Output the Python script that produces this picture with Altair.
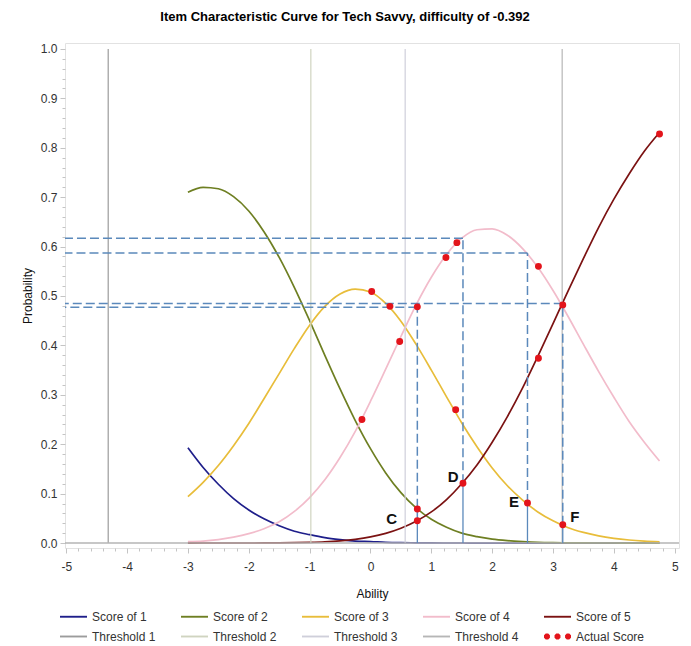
import altair as alt
import pandas as pd

FONT = "Liberation Sans"

# Ability grid on which the category probability curves are tabulated
theta = [-3.0, -2.75, -2.5, -2.25, -2.0, -1.75, -1.5, -1.25, -1.0, -0.75, -0.5, -0.25,
         0.0, 0.25, 0.5, 0.75, 1.0, 1.25, 1.5, 1.75, 2.0, 2.25, 2.5, 2.75,
         3.0, 3.25, 3.5, 3.75, 4.0, 4.25, 4.5, 4.75]

score1 = [0.193, 0.153, 0.119, 0.090, 0.067, 0.049, 0.035, 0.024, 0.017, 0.011, 0.007, 0.004,
          0.003, 0.0015, 0.0008, 0.0005, 0.0002, 0.0001, 0.0001, 0.0, 0.0, 0.0, 0.0, 0.0,
          0.0, 0.0, 0.0, 0.0, 0.0, 0.0, 0.0, 0.0]
score2 = [0.710, 0.720, 0.717, 0.701, 0.672, 0.630, 0.578, 0.517, 0.450, 0.380, 0.312, 0.248,
          0.191, 0.142, 0.102, 0.071, 0.048, 0.032, 0.020, 0.013, 0.008, 0.005, 0.003, 0.0015,
          0.0008, 0.0005, 0.0002, 0.0001, 0.0001, 0.0, 0.0, 0.0]
score3 = [0.094, 0.123, 0.157, 0.197, 0.242, 0.292, 0.343, 0.394, 0.441, 0.479, 0.504, 0.514,
          0.508, 0.485, 0.449, 0.402, 0.350, 0.296, 0.243, 0.195, 0.152, 0.116, 0.087, 0.063,
          0.045, 0.031, 0.0215, 0.0144, 0.0095, 0.0062, 0.0040, 0.0025]
score4 = [0.003, 0.004, 0.007, 0.012, 0.019, 0.029, 0.043, 0.064, 0.092, 0.128, 0.173, 0.226,
          0.287, 0.352, 0.418, 0.482, 0.538, 0.584, 0.617, 0.634, 0.636, 0.623, 0.596, 0.558,
          0.511, 0.458, 0.402, 0.347, 0.295, 0.246, 0.204, 0.166]
score5 = [0.0, 0.0001, 0.0001, 0.0001, 0.0001, 0.0002, 0.0004, 0.0008, 0.0015, 0.0026, 0.0045, 0.0076,
          0.0124, 0.0196, 0.030, 0.044, 0.063, 0.088, 0.120, 0.158, 0.204, 0.256, 0.314, 0.378,
          0.444, 0.511, 0.576, 0.639, 0.696, 0.747, 0.793, 0.831]

score_names = ["Score of 1", "Score of 2", "Score of 3", "Score of 4", "Score of 5"]
score_colors = ["#1e1e8a", "#6e7f22", "#e8bd3a", "#f2bccb", "#7b1212"]

# Step thresholds (vertical reference lines)
threshold_names = ["Threshold 1", "Threshold 2", "Threshold 3", "Threshold 4"]
threshold_x = [-4.31, -0.98, 0.57, 3.15]
threshold_colors = ["#9c9c9c", "#d0d4c0", "#cfcfda", "#b6b6b6"]

# Observed scores
point_name = "Actual Score"
point_color = "#e3141b"
points_x = [-0.14, 0.02, 0.32, 0.48, 0.77, 0.77, 0.77, 1.24, 1.42, 1.40, 1.52, 2.58,
            2.76, 2.76, 3.16, 3.16, 4.75]
points_y = [0.250, 0.509, 0.479, 0.408, 0.478, 0.069, 0.045, 0.578, 0.608, 0.270, 0.121, 0.081,
            0.560, 0.374, 0.482, 0.037, 0.828]

# Guide lines: read-off probability level, ability and lower marked score
guide_x = [0.77, 1.52, 2.58, 3.16]
guide_level = [0.477, 0.617, 0.587, 0.485]
guide_point = [0.045, 0.121, 0.081, 0.037]
guide_color = "#5b89bb"

# Letter annotations
letters = ["C", "D", "E", "F"]
letter_x = [0.35, 1.36, 2.36, 3.36]
letter_y = [0.048, 0.133, 0.083, 0.053]

x_major = [-5, -4, -3, -2, -1, 0, 1, 2, 3, 4, 5]
y_major = [0.0, 0.1, 0.2, 0.3, 0.4, 0.5, 0.6, 0.7, 0.8, 0.9, 1.0]
x_ticks = sorted(set(round(m + 0.2 * k, 1) for m in x_major[:-1] for k in range(5)) | {5.0})
y_ticks = sorted(set(round(m + 0.02 * k, 2) for m in y_major[:-1] for k in range(5)) | {1.0})

line_names = score_names + threshold_names
line_colors = score_colors + threshold_colors
legend_names = line_names + [point_name]
legend_colors = line_colors + [point_color]


def dot(cx, r=0.22):
    # octagon approximating a small filled circle
    k = r * 0.414
    return (f"M{cx - r},{-k}L{cx - k},{-r}L{cx + k},{-r}L{cx + r},{-k}"
            f"L{cx + r},{k}L{cx + k},{r}L{cx - k},{r}L{cx - r},{k}Z")


line_shape = "M-1,-0.07L1,-0.07L1,0.07L-1,0.07Z"
dots_shape = dot(-0.78) + dot(0.0) + dot(0.78)
legend_shapes = [line_shape] * len(line_names) + [dots_shape]

curve_df = pd.DataFrame({
    "theta": theta * 5,
    "prob": score1 + score2 + score3 + score4 + score5,
    "series": [n for n in score_names for _ in theta],
})
thr_df = pd.DataFrame({"x": threshold_x, "series": threshold_names})
pts_df = pd.DataFrame({"x": points_x, "y": points_y})
guide_df = pd.DataFrame({"gx": guide_x, "level": guide_level, "pt": guide_point})
letter_df = pd.DataFrame({"lx": letter_x, "ly": letter_y, "label": letters})
zero_df = pd.DataFrame({"level": [0.0]})

xs = alt.Scale(domain=[-5.02, 5.07], nice=False, zero=False)
ys = alt.Scale(domain=[-0.01, 1.012], nice=False, zero=False)
line_scale = alt.Scale(domain=line_names, range=line_colors)
legend_scale = alt.Scale(domain=legend_names, range=legend_colors)
shape_scale = alt.Scale(domain=legend_names, range=legend_shapes)

X_MAJOR_TEST = "datum.value % 1 === 0"
Y_MAJOR_TEST = "abs(datum.value * 10 - round(datum.value * 10)) < 1e-6"

# minor ticks are shortened with a dash pattern
x_axis = alt.Axis(
    values=x_ticks,
    labelExpr=f"{X_MAJOR_TEST} ? '' + datum.value : ''",
    tickSize=5,
    tickDash={"condition": {"test": X_MAJOR_TEST, "value": [6, 0]}, "value": [3, 6]},
    labelOverlap=False, labelPadding=8, titlePadding=16,
)
y_axis = alt.Axis(
    values=y_ticks,
    labelExpr=f"{Y_MAJOR_TEST} ? format(datum.value, '.1f') : ''",
    tickSize=5,
    tickDash={"condition": {"test": Y_MAJOR_TEST, "value": [6, 0]}, "value": [3, 6]},
    labelOverlap=False, labelPadding=3, titlePadding=6,
)


def X(field):
    return alt.X(field, scale=xs, axis=x_axis, title="Ability")


def Y(field):
    return alt.Y(field, scale=ys, axis=y_axis, title="Probability")


curves = alt.Chart(curve_df).mark_line(strokeWidth=1.7, interpolate="monotone").encode(
    x=X("theta:Q"),
    y=Y("prob:Q"),
    stroke=alt.Stroke("series:N", scale=line_scale, legend=None),
)

thresholds = alt.Chart(thr_df).transform_calculate(lo="0", hi="1").mark_rule(strokeWidth=1.2).encode(
    x=X("x:Q"),
    y=Y("lo:Q"),
    y2="hi:Q",
    stroke=alt.Stroke("series:N", scale=line_scale, legend=None),
)

zero_line = alt.Chart(zero_df).mark_rule(color="#b5b5b5", strokeWidth=1.5).encode(
    y=Y("level:Q"),
)

h_dash = alt.Chart(guide_df).mark_rule(color=guide_color, strokeWidth=1.5, strokeDash=[9, 4]).encode(
    x=X("gx:Q"),
    x2=alt.value(0),
    y=Y("level:Q"),
)
v_dash = alt.Chart(guide_df).mark_rule(color=guide_color, strokeWidth=1.5, strokeDash=[9, 4]).encode(
    x=X("gx:Q"),
    y=Y("pt:Q"),
    y2="level:Q",
)
v_solid = alt.Chart(guide_df).transform_calculate(base="0").mark_rule(color=guide_color, strokeWidth=1.3).encode(
    x=X("gx:Q"),
    y=Y("pt:Q"),
    y2="base:Q",
)

points = alt.Chart(pts_df).mark_circle(color=point_color, size=48, opacity=1).encode(
    x=X("x:Q"),
    y=Y("y:Q"),
)

letter_marks = alt.Chart(letter_df).mark_text(
    font=FONT, fontSize=15, fontWeight="bold", color="#111111", align="center", baseline="middle"
).encode(
    x=X("lx:Q"),
    y=Y("ly:Q"),
    text="label:N",
)

legend = alt.Legend(
    title=None, orient="none", legendX=-5, legendY=560, columns=5, direction="horizontal",
    symbolSize=729, symbolStrokeWidth=0, symbolOpacity=1, labelOffset=5,
    columnPadding=20, rowPadding=0, gridAlign="all",
    labelFont=FONT, labelFontSize=12, labelColor="#333333", padding=0,
)
# invisible copy of the curves that carries the combined legend
legend_layer = alt.Chart(curve_df).mark_point(filled=True, opacity=0).encode(
    x=X("theta:Q"),
    y=Y("prob:Q"),
    color=alt.Color("series:N", scale=legend_scale, legend=legend),
    shape=alt.Shape("series:N", scale=shape_scale, legend=legend),
)

chart = alt.layer(
    curves, thresholds, zero_line, h_dash, v_dash, v_solid, points, letter_marks, legend_layer
).properties(
    width=614,
    height=505,
    title=alt.TitleParams(
        "Item Characteristic Curve for Tech Savvy, difficulty of -0.392",
        font=FONT, fontSize=13, fontWeight="bold", color="#000000",
        anchor="middle", dx=-27, offset=19,
    ),
    autosize=alt.AutoSizeParams(type="none"),
    padding={"left": 65, "top": 43, "right": 12, "bottom": 98},
).configure_view(
    stroke="#e2e2e2", strokeWidth=1
).configure_axis(
    domain=False, grid=False, tickColor="#c4c4c4", tickWidth=1,
    labelFont=FONT, labelFontSize=12, labelColor="#333333",
    titleFont=FONT, titleFontSize=12, titleFontWeight="normal", titleColor="#111111",
)

chart.save("out.html", embed_options={"renderer": "svg", "actions": False})
